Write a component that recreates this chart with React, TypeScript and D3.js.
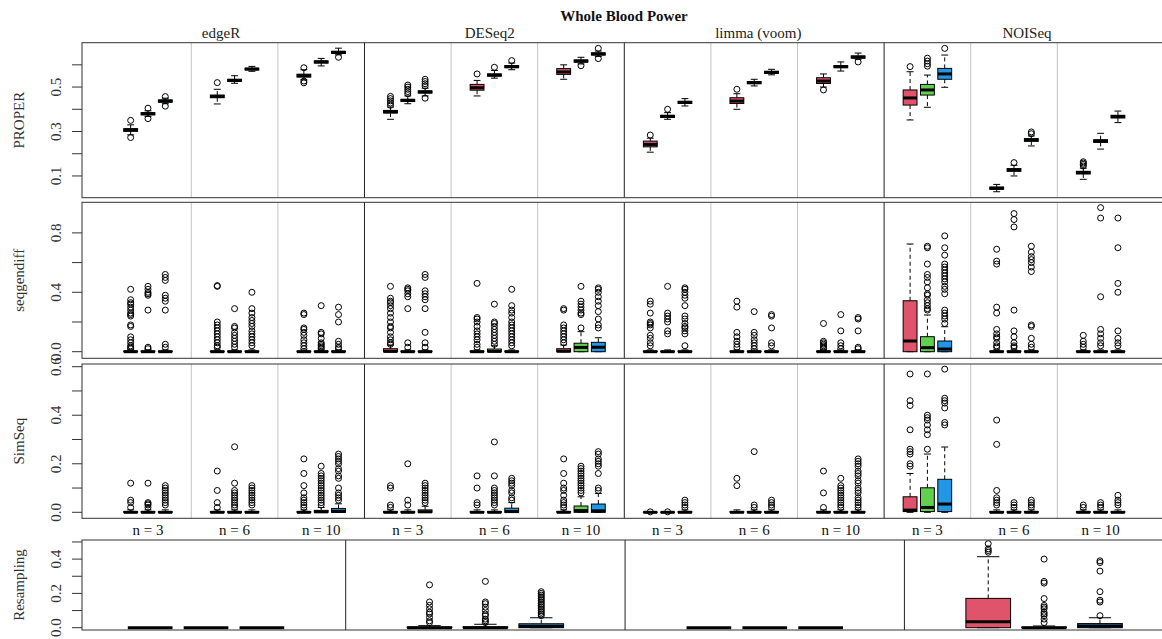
import React from 'react'
import * as d3 from 'd3'

// facets
const methods = ['edgeR', 'DESeq2', 'limma (voom)', 'NOISeq']
const sampleSizes = ['n = 3', 'n = 6', 'n = 10']
const boxColors = ['#DF536B', '#61D04F', '#2297E6']
const rowNames = ['PROPER', 'seqgendiff', 'SimSeq', 'Resampling']

// box stats: [lower whisker, Q1, median, Q3, upper whisker]
// order: method -> sample size -> setting (red, green, blue)
const properStats = [
  [0.285, 0.301, 0.307, 0.313, 0.33], [0.368, 0.375, 0.38, 0.385, 0.393], [0.425, 0.432, 0.437, 0.442, 0.45],
  [0.424, 0.452, 0.458, 0.464, 0.49], [0.517, 0.525, 0.53, 0.535, 0.551], [0.571, 0.577, 0.581, 0.585, 0.593],
  [0.533, 0.545, 0.551, 0.558, 0.578], [0.595, 0.608, 0.613, 0.618, 0.629], [0.645, 0.651, 0.656, 0.661, 0.675],
  [0.355, 0.383, 0.389, 0.395, 0.41], [0.425, 0.435, 0.44, 0.445, 0.46], [0.46, 0.473, 0.478, 0.483, 0.495],
  [0.46, 0.486, 0.497, 0.512, 0.53], [0.54, 0.549, 0.554, 0.559, 0.575], [0.578, 0.587, 0.592, 0.597, 0.608],
  [0.535, 0.557, 0.568, 0.583, 0.6], [0.604, 0.612, 0.617, 0.622, 0.634], [0.638, 0.644, 0.649, 0.654, 0.662],
  [0.207, 0.231, 0.242, 0.257, 0.27], [0.355, 0.363, 0.368, 0.373, 0.385], [0.415, 0.426, 0.431, 0.436, 0.448],
  [0.4, 0.426, 0.437, 0.452, 0.47], [0.505, 0.515, 0.52, 0.525, 0.535], [0.555, 0.561, 0.566, 0.571, 0.58],
  [0.5, 0.516, 0.527, 0.542, 0.559], [0.572, 0.587, 0.592, 0.597, 0.613], [0.625, 0.63, 0.635, 0.64, 0.653],
  [0.352, 0.419, 0.451, 0.487, 0.569], [0.409, 0.464, 0.487, 0.512, 0.554], [0.499, 0.535, 0.559, 0.584, 0.644],
  [0.029, 0.04, 0.045, 0.05, 0.062], [0.1, 0.121, 0.127, 0.133, 0.148], [0.235, 0.256, 0.262, 0.268, 0.28],
  [0.085, 0.109, 0.115, 0.121, 0.135], [0.221, 0.251, 0.257, 0.263, 0.292], [0.34, 0.361, 0.367, 0.373, 0.392],
]
const properOutliers = [
  [0.35, 0.273], [0.405, 0.358], [0.457, 0.414],
  [0.52], [], [],
  [0.587, 0.527, 0.519], [], [0.634],
  [0.418, 0.428, 0.438, 0.448, 0.458], [0.47, 0.48, 0.49, 0.5, 0.509], [0.505, 0.515, 0.525, 0.535, 0.45],
  [0.559], [0.589], [0.619],
  [], [0.596], [0.674, 0.628],
  [0.284], [0.4], [],
  [0.49], [], [],
  [0.487], [], [0.613],
  [0.592], [0.594, 0.605, 0.617, 0.63], [0.674],
  [], [0.16], [0.29, 0.298],
  [0.145, 0.152, 0.158, 0.164], [], [],
]

const seqgendiffStats = [
  [0, 0, 0, 0.004, 0.012], [0, 0, 0, 0.004, 0.012], [0, 0, 0, 0.004, 0.012],
  [0, 0, 0, 0.004, 0.012], [0, 0, 0, 0.004, 0.012], [0, 0, 0, 0.004, 0.012],
  [0, 0, 0, 0.004, 0.012], [0, 0, 0, 0.004, 0.012], [0, 0, 0, 0.004, 0.012],
  [0, 0, 0.002, 0.02, 0.045], [0, 0, 0, 0.004, 0.012], [0, 0, 0, 0.004, 0.012],
  [0, 0, 0, 0.004, 0.012], [0, 0, 0.002, 0.018, 0.04], [0, 0, 0, 0.004, 0.012],
  [0, 0, 0.003, 0.02, 0.045], [0, 0, 0.029, 0.057, 0.135], [0, 0, 0.03, 0.063, 0.094],
  [0, 0, 0, 0.004, 0.012], [0, 0, 0, 0.004, 0.012], [0, 0, 0, 0.004, 0.012],
  [0, 0, 0, 0.004, 0.012], [0, 0, 0, 0.004, 0.012], [0, 0, 0, 0.004, 0.012],
  [0, 0, 0, 0.004, 0.012], [0, 0, 0, 0.004, 0.012], [0, 0, 0, 0.004, 0.012],
  [0, 0, 0.072, 0.343, 0.725], [0, 0, 0.027, 0.101, 0.247], [0, 0, 0.018, 0.072, 0.168],
  [0, 0, 0, 0.004, 0.012], [0, 0, 0, 0.004, 0.012], [0, 0, 0, 0.004, 0.012],
  [0, 0, 0, 0.004, 0.012], [0, 0, 0, 0.004, 0.012], [0, 0, 0, 0.004, 0.012],
]
const seqgendiffOutliers = [
  [0.42, 0.35, 0.33, 0.32, 0.3, 0.28, 0.26, 0.25, 0.24, 0.18, 0.17, 0.1, 0.08, 0.06, 0.04, 0.03, 0.02],
  [0.44, 0.42, 0.4, 0.39, 0.38, 0.28, 0.03, 0.02],
  [0.52, 0.5, 0.48, 0.38, 0.36, 0.34, 0.28, 0.05, 0.03],
  [0.445, 0.44, 0.2, 0.18, 0.16, 0.14, 0.12, 0.1, 0.08, 0.06, 0.04, 0.03],
  [0.29, 0.17, 0.16, 0.13, 0.11, 0.09, 0.07, 0.05, 0.03],
  [0.4, 0.29, 0.26, 0.23, 0.21, 0.19, 0.17, 0.14, 0.12, 0.1, 0.08, 0.06, 0.04],
  [0.26, 0.25, 0.16, 0.15, 0.13, 0.11, 0.08, 0.06, 0.04, 0.02],
  [0.31, 0.13, 0.12, 0.09, 0.06, 0.05, 0.04, 0.03, 0.02],
  [0.3, 0.25, 0.2, 0.07, 0.05, 0.03, 0.02],
  [0.44, 0.36, 0.34, 0.33, 0.31, 0.29, 0.26, 0.23, 0.2, 0.17, 0.16, 0.13, 0.1, 0.08, 0.06, 0.05],
  [0.43, 0.42, 0.41, 0.39, 0.37, 0.29, 0.06, 0.03],
  [0.52, 0.5, 0.41, 0.39, 0.37, 0.35, 0.29, 0.13, 0.06, 0.03],
  [0.46, 0.23, 0.22, 0.2, 0.17, 0.14, 0.12, 0.1, 0.08, 0.05, 0.03],
  [0.32, 0.2, 0.19, 0.17, 0.15, 0.13, 0.11, 0.09, 0.07, 0.05],
  [0.42, 0.31, 0.28, 0.26, 0.23, 0.2, 0.18, 0.16, 0.14, 0.12, 0.1, 0.08, 0.06, 0.04],
  [0.29, 0.28, 0.18, 0.16, 0.14, 0.12, 0.1, 0.08, 0.06],
  [0.44, 0.34, 0.32, 0.3, 0.28, 0.26, 0.25, 0.16],
  [0.43, 0.42, 0.4, 0.37, 0.34, 0.31, 0.27, 0.22, 0.18, 0.16],
  [0.34, 0.32, 0.26, 0.2, 0.19, 0.18, 0.16, 0.11, 0.09, 0.06, 0.04],
  [0.44, 0.26, 0.24, 0.22, 0.2, 0.14, 0.12],
  [0.43, 0.42, 0.4, 0.38, 0.36, 0.31, 0.24, 0.22, 0.19, 0.17, 0.16, 0.14, 0.12, 0.04],
  [0.34, 0.3, 0.13, 0.1, 0.07, 0.05, 0.03],
  [0.27, 0.13, 0.11, 0.08, 0.06, 0.04, 0.02],
  [0.25, 0.24, 0.16, 0.06, 0.04],
  [0.19, 0.07, 0.06, 0.05, 0.04, 0.03, 0.02],
  [0.25, 0.14, 0.06, 0.04, 0.02],
  [0.23, 0.22, 0.14, 0.03, 0.02],
  [],
  [0.71, 0.7, 0.59, 0.52, 0.5, 0.47, 0.43, 0.39, 0.38, 0.35, 0.33, 0.31, 0.29, 0.28],
  [0.78, 0.7, 0.65, 0.59, 0.57, 0.55, 0.53, 0.51, 0.49, 0.47, 0.44, 0.42, 0.39, 0.28, 0.26, 0.24, 0.22, 0.19],
  [0.69, 0.61, 0.59, 0.3, 0.26, 0.15, 0.12, 0.1, 0.09, 0.06, 0.04, 0.03],
  [0.93, 0.89, 0.84, 0.28, 0.14, 0.1, 0.06, 0.04, 0.03],
  [0.71, 0.67, 0.64, 0.62, 0.6, 0.57, 0.54, 0.18, 0.17, 0.09, 0.05, 0.03],
  [0.11, 0.07, 0.05, 0.03],
  [0.97, 0.9, 0.37, 0.15, 0.12, 0.09, 0.06, 0.04],
  [0.9, 0.7, 0.46, 0.4, 0.14, 0.09, 0.06, 0.04],
]

const simseqStats = [
  [0, 0, 0, 0.003, 0.01], [0, 0, 0, 0.003, 0.01], [0, 0, 0, 0.003, 0.01],
  [0, 0, 0, 0.003, 0.01], [0, 0, 0, 0.003, 0.01], [0, 0, 0, 0.003, 0.01],
  [0, 0, 0, 0.003, 0.01], [0, 0, 0.002, 0.008, 0.02], [0, 0, 0.004, 0.016, 0.035],
  [0, 0, 0, 0.003, 0.01], [0, 0, 0, 0.003, 0.01], [0, 0, 0.002, 0.01, 0.025],
  [0, 0, 0, 0.003, 0.01], [0, 0, 0, 0.003, 0.01], [0, 0, 0.003, 0.017, 0.04],
  [0, 0, 0, 0.003, 0.01], [0, 0, 0.007, 0.026, 0.064], [0, 0, 0.006, 0.034, 0.078],
  [0, 0, 0, 0.001, 0.003], [0, 0, 0, 0.001, 0.003], [0, 0, 0, 0.003, 0.01],
  [0, 0, 0, 0.003, 0.01], [0, 0, 0, 0.003, 0.01], [0, 0, 0, 0.003, 0.01],
  [0, 0, 0, 0.003, 0.01], [0, 0, 0, 0.003, 0.01], [0, 0, 0, 0.003, 0.01],
  [0, 0.003, 0.009, 0.064, 0.16], [0, 0.003, 0.02, 0.101, 0.24], [0, 0.003, 0.034, 0.136, 0.269],
  [0, 0, 0, 0.003, 0.01], [0, 0, 0, 0.003, 0.01], [0, 0, 0, 0.003, 0.01],
  [0, 0, 0, 0.003, 0.01], [0, 0, 0, 0.003, 0.01], [0, 0, 0, 0.003, 0.01],
]
const simseqOutliers = [
  [0.12, 0.05, 0.04, 0.02],
  [0.12, 0.04, 0.035, 0.03, 0.02],
  [0.11, 0.1, 0.09, 0.08, 0.07, 0.06, 0.05, 0.04, 0.03],
  [0.17, 0.09, 0.04, 0.02],
  [0.27, 0.12, 0.09, 0.08, 0.07, 0.06, 0.05, 0.04, 0.03, 0.02],
  [0.11, 0.1, 0.09, 0.08, 0.07, 0.06, 0.05, 0.04, 0.03],
  [0.22, 0.16, 0.11, 0.08, 0.06, 0.05, 0.04, 0.03, 0.02],
  [0.19, 0.16, 0.15, 0.14, 0.13, 0.12, 0.11, 0.1, 0.09, 0.08, 0.07, 0.06, 0.05, 0.04, 0.03],
  [0.24, 0.23, 0.22, 0.21, 0.2, 0.18, 0.17, 0.15, 0.14, 0.1, 0.08, 0.07, 0.06, 0.05],
  [0.11, 0.1, 0.03, 0.02],
  [0.2, 0.05, 0.03],
  [0.12, 0.11, 0.1, 0.09, 0.08, 0.07, 0.06, 0.05, 0.04],
  [0.15, 0.1, 0.04, 0.03],
  [0.29, 0.15, 0.1, 0.09, 0.08, 0.07, 0.06, 0.05, 0.04, 0.03],
  [0.14, 0.13, 0.12, 0.11, 0.09, 0.08, 0.06, 0.05],
  [0.22, 0.16, 0.12, 0.1, 0.09, 0.07, 0.05, 0.04, 0.03, 0.02],
  [0.19, 0.18, 0.17, 0.16, 0.15, 0.14, 0.13, 0.12, 0.11, 0.1, 0.09, 0.08],
  [0.25, 0.24, 0.22, 0.21, 0.2, 0.19, 0.16, 0.1, 0.09],
  [0.002],
  [0.002],
  [0.05, 0.04, 0.03, 0.02],
  [0.14, 0.11],
  [0.25, 0.03, 0.02],
  [0.05, 0.04, 0.03, 0.02],
  [0.17, 0.08, 0.02],
  [0.14, 0.11, 0.1, 0.09, 0.08, 0.07, 0.06, 0.05, 0.04, 0.03, 0.02],
  [0.22, 0.21, 0.2, 0.19, 0.17, 0.16, 0.15, 0.13, 0.12, 0.1, 0.09, 0.08, 0.06, 0.05, 0.04, 0.03, 0.02],
  [0.57, 0.46, 0.44, 0.34, 0.26, 0.25, 0.24, 0.2, 0.19],
  [0.57, 0.4, 0.39, 0.38, 0.36, 0.34, 0.32, 0.26],
  [0.59, 0.47, 0.46, 0.45, 0.43, 0.37, 0.36],
  [0.38, 0.28, 0.09, 0.06, 0.05, 0.04, 0.03],
  [0.04, 0.03, 0.02],
  [0.05, 0.04, 0.03, 0.02],
  [0.03, 0.02],
  [0.04, 0.03, 0.02],
  [0.07, 0.05, 0.04, 0.03],
]

// resampling: method -> setting
const resamplingStats = [
  [0, 0, 0, 0, 0], [0, 0, 0, 0, 0], [0, 0, 0, 0, 0],
  [0, 0, 0, 0.004, 0.012], [0, 0, 0, 0.005, 0.02], [0, 0, 0.008, 0.023, 0.058],
  [0, 0, 0, 0, 0], [0, 0, 0, 0, 0], [0, 0, 0, 0, 0],
  [0, 0, 0.035, 0.171, 0.414], [0, 0, 0, 0.003, 0.01], [0, 0, 0.01, 0.024, 0.058],
]
const resamplingOutliers = [
  [], [], [],
  [0.25, 0.15, 0.13, 0.11, 0.09, 0.08, 0.06, 0.04, 0.03],
  [0.27, 0.15, 0.14, 0.12, 0.1, 0.08, 0.07, 0.05, 0.04, 0.03],
  [0.21, 0.2, 0.19, 0.18, 0.17, 0.16, 0.15, 0.14, 0.13, 0.12, 0.11, 0.1, 0.09, 0.08, 0.07],
  [], [], [],
  [0.49, 0.46, 0.45, 0.44],
  [0.4, 0.27, 0.26, 0.17, 0.13, 0.12, 0.11, 0.09, 0.08, 0.07, 0.05, 0.03],
  [0.39, 0.38, 0.33, 0.21, 0.16, 0.15, 0.07],
]

// y axes: tick positions and which ones get a label
const properTicks = [0.1, 0.2, 0.3, 0.4, 0.5, 0.6]
const properTickLabels = [0.1, 0.3, 0.5]
const seqgendiffTicks = [0, 0.2, 0.4, 0.6, 0.8]
const seqgendiffTickLabels = [0, 0.4, 0.8]
const simseqTicks = [0, 0.1, 0.2, 0.3, 0.4, 0.5, 0.6]
const simseqTickLabels = [0, 0.2, 0.4, 0.6]
const resamplingTicks = [0, 0.1, 0.2, 0.3, 0.4, 0.5]
const resamplingTickLabels = [0, 0.2, 0.4]

const W = 1162
const H = 639
const LEFT = 82
const FONT = "'Liberation Serif', 'Times New Roman', serif"
const fmt = d3.format('.1f')

function BoxMark({ cx, w, s, out, y, fill }) {
  const [lo, q1, med, q3, hi] = s
  const sw = w / 4
  return (
    <g>
      <line x1={cx} x2={cx} y1={y(q3)} y2={y(hi)} stroke="#000" strokeDasharray="4,3" />
      <line x1={cx} x2={cx} y1={y(q1)} y2={y(lo)} stroke="#000" strokeDasharray="4,3" />
      <line x1={cx - sw} x2={cx + sw} y1={y(hi)} y2={y(hi)} stroke="#000" />
      <line x1={cx - sw} x2={cx + sw} y1={y(lo)} y2={y(lo)} stroke="#000" />
      <rect x={cx - w / 2} y={y(q3)} width={w} height={Math.max(0, y(q1) - y(q3))} fill={fill} stroke="#000" />
      <line x1={cx - w / 2} x2={cx + w / 2} y1={y(med)} y2={y(med)} stroke="#000" strokeWidth={3} />
      {out.map((v, i) => (
        <circle key={i} cx={cx} cy={y(v)} r={3} fill="none" stroke="#000" />
      ))}
    </g>
  )
}

function YAxis({ y, ticks, labels }) {
  return (
    <g>
      {ticks.map(t => (
        <line key={t} x1={LEFT - 10} x2={LEFT} y1={y(t)} y2={y(t)} stroke="#333" />
      ))}
      {labels.map(t => (
        <text key={t} transform={`translate(60.5,${y(t)}) rotate(-90)`} textAnchor="middle"
          fontSize={15} fill="#333">{fmt(t)}</text>
      ))}
    </g>
  )
}

export default function App() {
  // top three rows share one x layout: 12 panels of 5 slots, boxes in slots 1..3
  const topX = d3.scaleLinear().domain([-1.81, 60.81]).range([LEFT, 1166.6])
  const topW = topX(0.4) - topX(-0.4)
  // resampling row: 4 groups of 5 slots
  const botX = d3.scaleLinear().domain([-0.22, 20.22]).range([LEFT, 1224])
  const botW = botX(0.4) - botX(-0.4)

  const topRows = [
    { name: rowNames[0], stats: properStats, out: properOutliers, frame: [42.7, 197.7], ylim: [0.0022, 0.6996], ticks: properTicks, labels: properTickLabels },
    { name: rowNames[1], stats: seqgendiffStats, out: seqgendiffOutliers, frame: [202.3, 358.3], ylim: [-0.0445, 1.006], ticks: seqgendiffTicks, labels: seqgendiffTickLabels },
    { name: rowNames[2], stats: simseqStats, out: simseqOutliers, frame: [364, 518.3], ylim: [-0.0247, 0.6111], ticks: simseqTicks, labels: simseqTickLabels },
  ]
  const botFrame = [540, 630]
  const botY = d3.scaleLinear().domain([-0.0134, 0.5114]).range([botFrame[1], botFrame[0]])

  const methodX = d3.scalePoint().domain(methods).range([221, 1027])
  const panels = d3.range(12)

  return (
    <svg width={W} height={H} style={{ position: 'absolute', left: 0, top: 0, background: '#fff' }} fontFamily={FONT}>
      <rect width={W} height={H} fill="#fff" />
      <text x={(LEFT + 1166) / 2} y={20.5} textAnchor="middle" fontSize={15} fontWeight="bold" fill="#111">
        Whole Blood Power
      </text>
      {methods.map(m => (
        <text key={m} x={methodX(m)} y={38} textAnchor="middle" fontSize={15} fill="#222">{m}</text>
      ))}

      {topRows.map(row => {
        const y = d3.scaleLinear().domain(row.ylim).range([row.frame[1], row.frame[0]])
        const mid = (row.frame[0] + row.frame[1]) / 2
        return (
          <g key={row.name}>
            {panels.slice(0, 11).map(g => (
              <line key={g} x1={topX(5 * g + 4.5)} x2={topX(5 * g + 4.5)} y1={row.frame[0]} y2={row.frame[1]}
                stroke={(g + 1) % 3 === 0 ? '#222' : '#c4c4c4'} />
            ))}
            {row.stats.map((s, i) => {
              const g = Math.floor(i / 3)
              const j = i % 3
              return <BoxMark key={i} cx={topX(5 * g + 1 + j)} w={topW} s={s} out={row.out[i]} y={y} fill={boxColors[j]} />
            })}
            <rect x={LEFT} y={row.frame[0]} width={1166 - LEFT} height={row.frame[1] - row.frame[0]} fill="none" stroke="#333" />
            <YAxis y={y} ticks={row.ticks} labels={row.labels} />
            <text transform={`translate(23.5,${mid}) rotate(-90)`} textAnchor="middle" fontSize={15} fill="#333">{row.name}</text>
          </g>
        )
      })}

      {panels.map(g => (
        <text key={g} x={topX(5 * g + 2)} y={534.5} textAnchor="middle" fontSize={15} fill="#111">
          {sampleSizes[g % 3]}
        </text>
      ))}

      <g>
        {[0, 1, 2].map(m => (
          <line key={m} x1={botX(5 * m + 4.5)} x2={botX(5 * m + 4.5)} y1={botFrame[0]} y2={botFrame[1]} stroke="#222" />
        ))}
        {resamplingStats.map((s, i) => {
          const m = Math.floor(i / 3)
          const j = i % 3
          return <BoxMark key={i} cx={botX(5 * m + 1 + j)} w={botW} s={s} out={resamplingOutliers[i]} y={botY} fill={boxColors[j]} />
        })}
        <rect x={LEFT} y={botFrame[0]} width={1166 - LEFT} height={botFrame[1] - botFrame[0]} fill="none" stroke="#333" />
        <YAxis y={botY} ticks={resamplingTicks} labels={resamplingTickLabels} />
        <text transform={`translate(23.5,${(botFrame[0] + botFrame[1]) / 2}) rotate(-90)`} textAnchor="middle" fontSize={15} fill="#333">
          {rowNames[3]}
        </text>
      </g>
    </svg>
  )
}
